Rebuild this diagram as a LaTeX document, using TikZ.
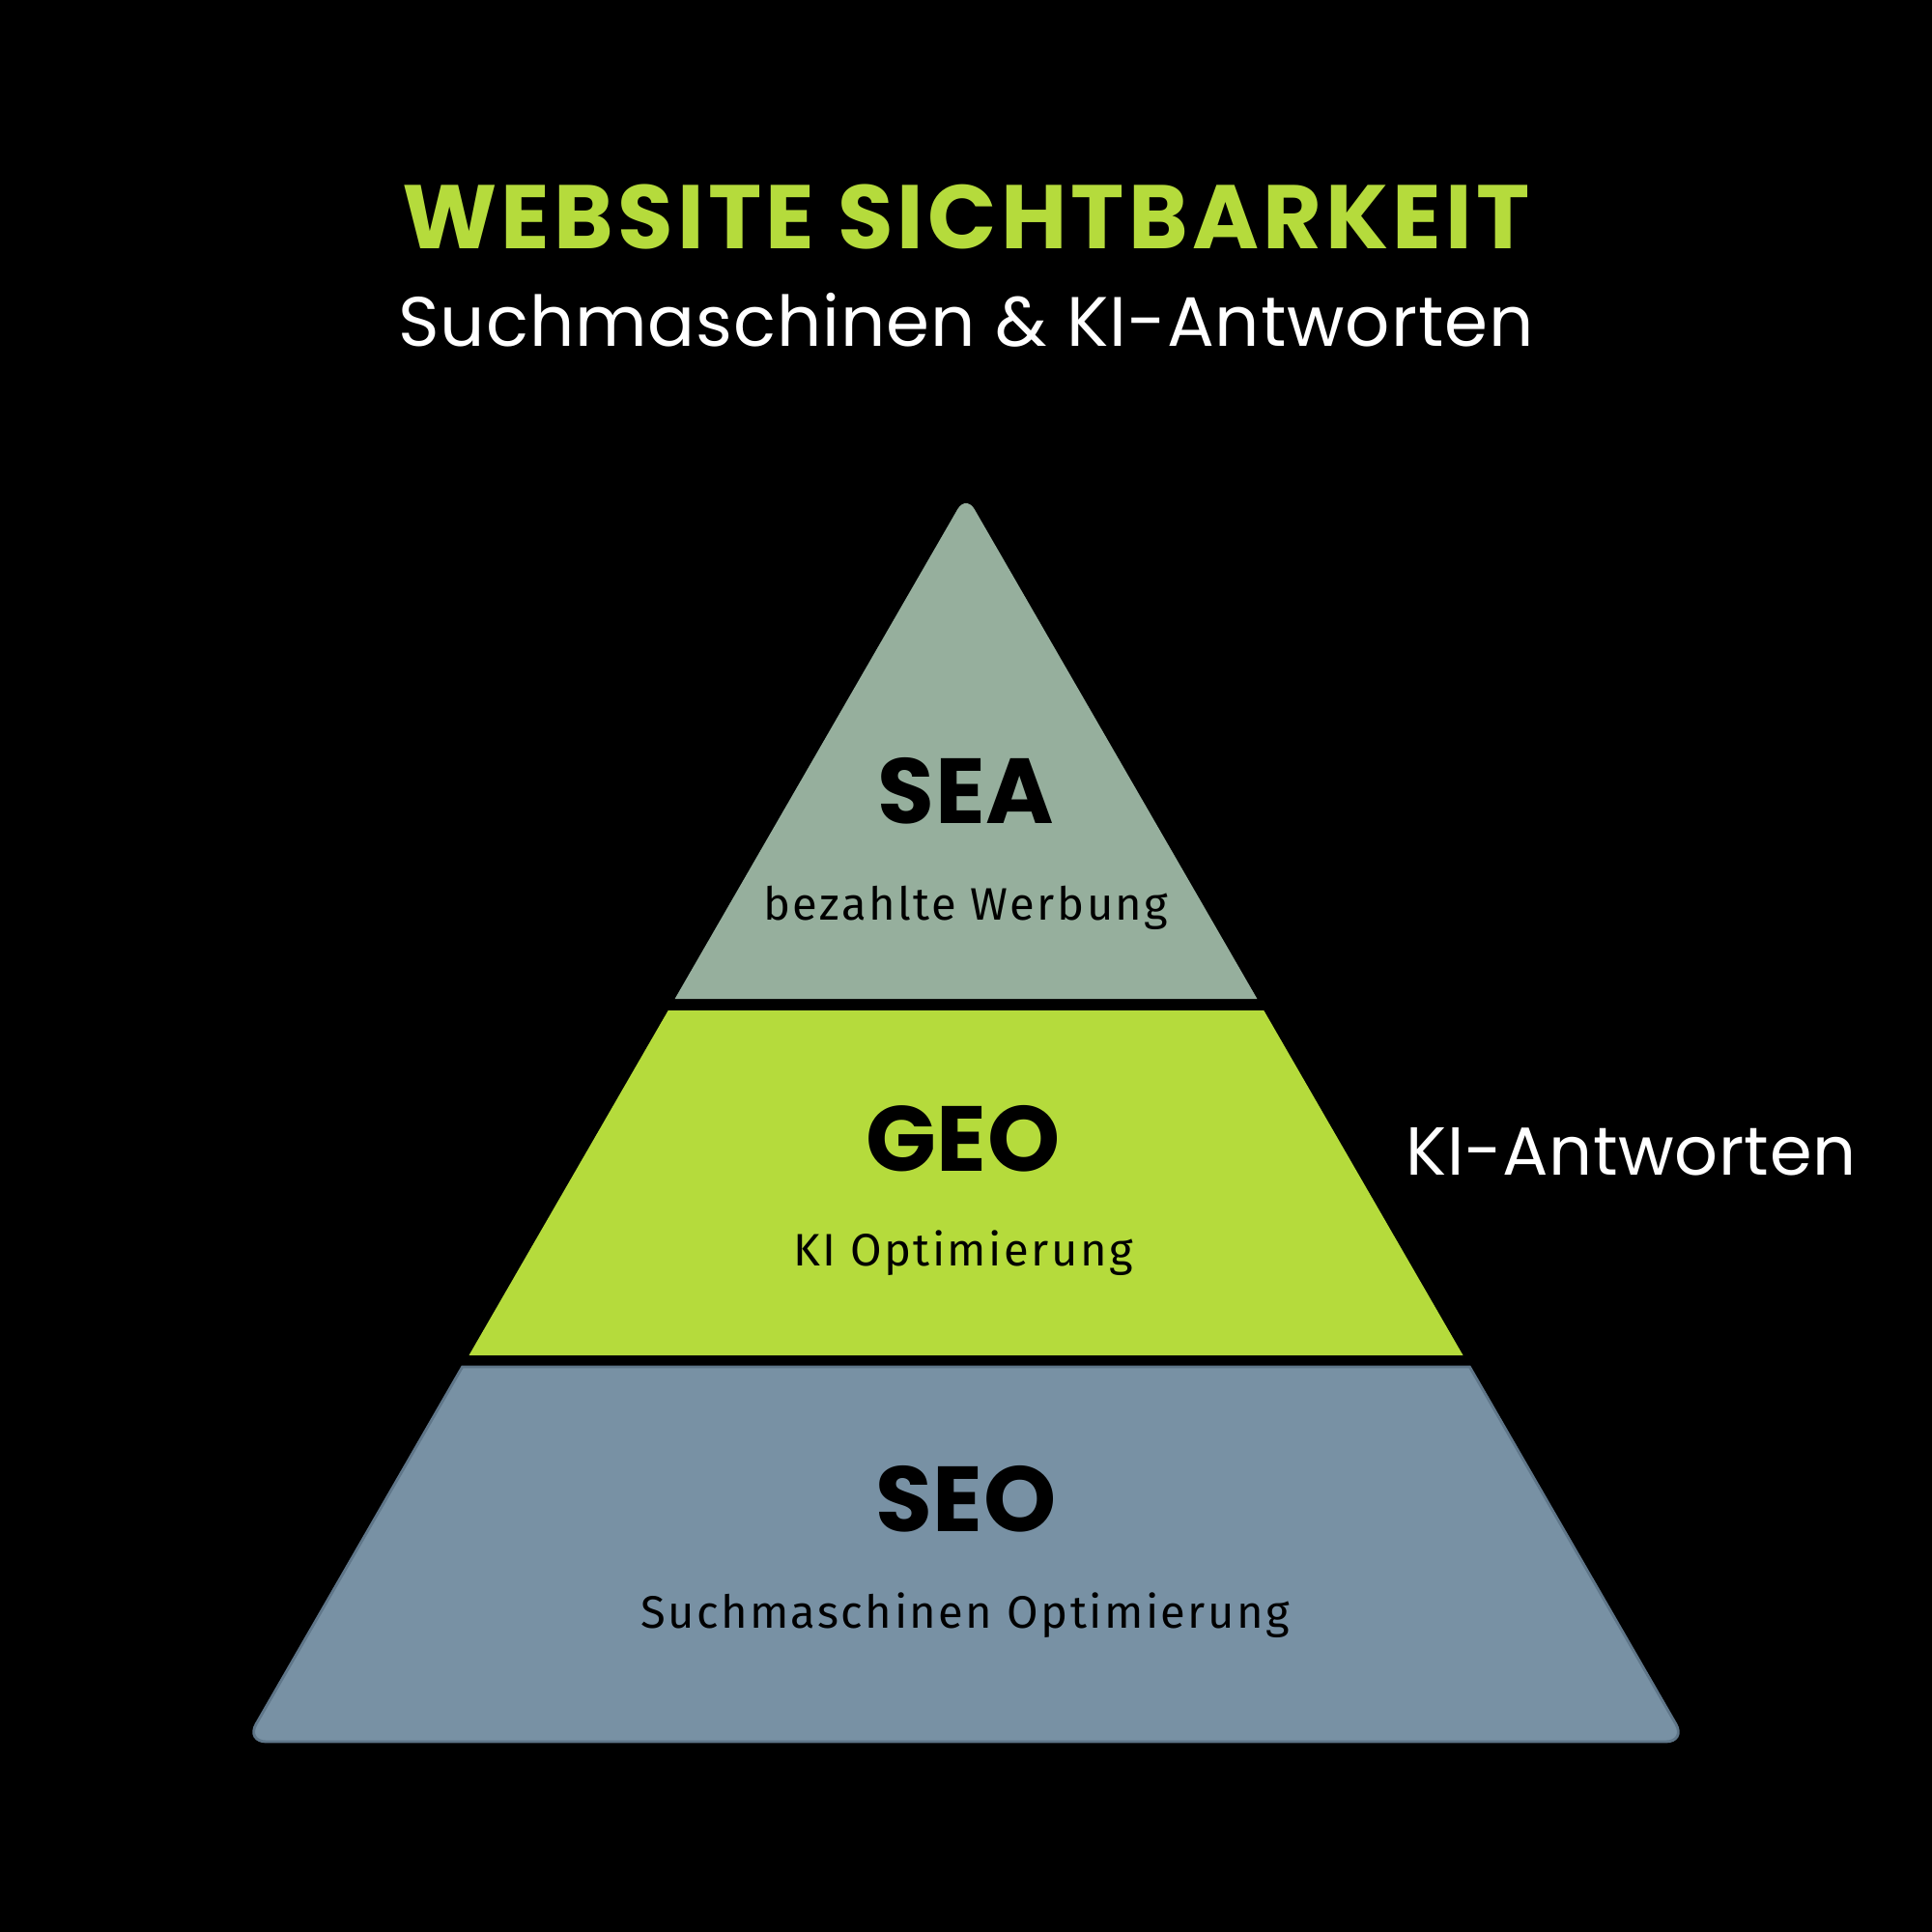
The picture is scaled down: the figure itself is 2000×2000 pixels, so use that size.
\documentclass[tikz,border=0pt]{standalone}
\usepackage{fontspec}
\setmainfont{Poppins}
\newfontfamily\headfont{Poppins}
\newfontfamily\smallfont{Fira Sans}
\definecolor{limegreen}{HTML}{B5DB3C}
\definecolor{seagray}{HTML}{96AF9D}
\definecolor{seoblue}{HTML}{7891A4}
\definecolor{seoedge}{HTML}{5F7689}
\tikzset{
  titletext/.style={anchor=base, text=limegreen, font=\headfont\bfseries\fontsize{26.6}{30}\selectfont\addfontfeatures{LetterSpace=4.5}, inner sep=0pt},
  subtext/.style={anchor=base, text=white, font=\headfont\fontsize{20.6}{24}\selectfont\addfontfeatures{LetterSpace=1.3}, inner sep=0pt},
  levelname/.style={anchor=base, text=black, font=\headfont\bfseries\fontsize{27.2}{30}\selectfont\addfontfeatures{LetterSpace=1}, inner sep=0pt},
  leveldesc/.style={anchor=base, text=black, font=\smallfont\fontsize{13.4}{16}\selectfont\addfontfeatures{LetterSpace=5.2}, inner sep=0pt},
  sidetext/.style={anchor=base west, text=white, font=\headfont\fontsize{20}{24}\selectfont\addfontfeatures{LetterSpace=0.8}, inner sep=0pt},
}
\begin{document}
\begin{tikzpicture}[x=0.01cm, y=-0.01cm]
\fill[black] (0,0) rectangle (2000,2000);
\useasboundingbox (0,0) rectangle (2000,2000);
% pyramid corner points
\coordinate (apex) at (1000,512);
\coordinate (seaL) at (698.6,1034);
\coordinate (seaR) at (1301.4,1034);
\coordinate (geoTL) at (691.7,1046);
\coordinate (geoTR) at (1308.3,1046);
\coordinate (geoBL) at (485.5,1403);
\coordinate (geoBR) at (1514.5,1403);
\coordinate (seoTL) at (478.6,1415);
\coordinate (seoTR) at (1521.4,1415);
\coordinate (seoBL) at (254.6,1803);
\coordinate (seoBR) at (1745.4,1803);
% layers
\fill[seagray] (seaL) [rounded corners=5] -- (apex) [sharp corners] -- (seaR) -- cycle;
\fill[limegreen] (geoTL) -- (geoTR) -- (geoBR) -- (geoBL) -- cycle;
\filldraw[fill=seoblue, draw=seoedge, line width=0.8pt] (seoTL) -- (seoTR) [rounded corners=6] -- (seoBR) -- (seoBL) [sharp corners] -- cycle;
% texts
\node[titletext] (title) at (1000,258) {WEBSITE SICHTBARKEIT};
\node[subtext] (subtitle) at (1000,358) {Suchmaschinen \& KI-Antworten};
\node[levelname] (sea) at (1000,852) {SEA};
\node[leveldesc] (seadesc) at (1000,952) {bezahlte Werbung};
\node[levelname] (geo) at (997,1212) {GEO};
\node[leveldesc] (geodesc) at (997,1310) {KI Optimierung};
\node[levelname] (seo) at (1000,1585) {SEO};
\node[leveldesc] (seodesc) at (999,1685) {Suchmaschinen Optimierung};
\node[sidetext] (ki) at (1455,1216) {KI-Antworten};
\end{tikzpicture}
\end{document}
